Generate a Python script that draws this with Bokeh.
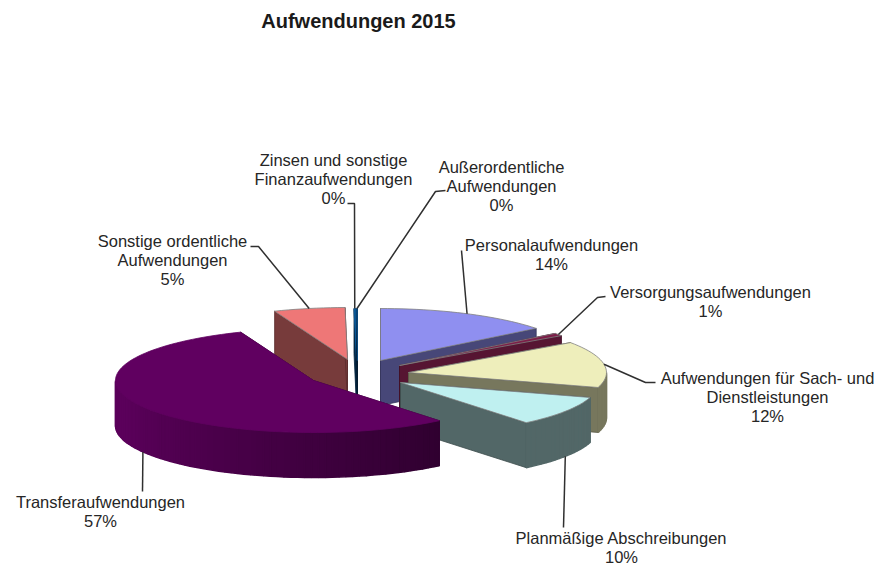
import math
from bokeh.plotting import figure
from bokeh.embed import file_html
from bokeh.resources import INLINE
from bokeh.core.properties import value

# ---- data ----
title_text = "Aufwendungen 2015"
categories = ["Personalaufwendungen", "Versorgungsaufwendungen",
              "Aufwendungen für Sach- und Dienstleistungen", "Planmäßige Abschreibungen",
              "Transferaufwendungen", "Sonstige ordentliche Aufwendungen",
              "Zinsen und sonstige Finanzaufwendungen", "Außerordentliche Aufwendungen"]
percent_labels = ["14%", "1%", "12%", "10%", "57%", "5%", "0%", "0%"]
# share of the drawn circle, as the slices appear in the perspective picture
drawn_shares = [14.4, 0.85, 14.4, 9.4, 54.95, 5.8, 0.12, 0.08]

# ---- styling and layout ----
top_colors = ["#8f8ff0", "#7c1e48", "#eeeebb", "#bff0f0", "#600060", "#ee7777", "#0a5a9c", "#0a4a80"]
side_factor = [0.5, 0.7, 0.5, 0.43, 0.5, 0.5, 0.5, 0.5]
pull = [(19, -13), (38, -8), (47, -1), (39, 9), (-48, 7), (-14, -14), (-5, -13), (-4, -13)]
label_lines = [["Personalaufwendungen"], ["Versorgungsaufwendungen"],
               ["Aufwendungen für Sach- und", "Dienstleistungen"], ["Planmäßige Abschreibungen"],
               ["Transferaufwendungen"], ["Sonstige ordentliche", "Aufwendungen"],
               ["Zinsen und sonstige", "Finanzaufwendungen"], ["Außerordentliche", "Aufwendungen"]]
label_pos = [(551, 244), (710, 291), (767, 377), (621, 537), (100, 501), (172, 240), (333, 159), (501, 166)]
leader_via = [[(461, 250)], [(605, 296), (597, 297)], [(655, 382), (645, 382)], [(563, 527)],
              [(142, 491)], [(250, 246), (258, 246)], [(347, 203), (354, 203)], [(445, 190), (435, 191)]]
paint_order = [5, 6, 7, 0, 1, 2, 3, 4]
CX, CY, RX, RY, DEPTH = 361, 373, 198, 52, 45
LINE_H = 19.2
FS = "16.5px"


def shade(hex_color, f):
    rgb = [int(hex_color[i:i + 2], 16) for i in (1, 3, 5)]
    return "#%02x%02x%02x" % tuple(min(255, int(c * f)) for c in rgb)


def rim(i, t):
    a = math.radians(t)
    return (CX + pull[i][0] + RX * math.sin(a), CY + pull[i][1] - RY * math.cos(a))


def wall_factor(i, t):
    low = side_factor[i]
    if t <= 141:
        return low
    return min(0.95, low + 0.45 * (t - 141) / 110)


p = figure(width=878, height=565, x_range=(0, 878), y_range=(565, 0),
           output_backend="svg", toolbar_location=None, min_border=0)
p.axis.visible = False
p.grid.visible = False
p.outline_line_color = None
p.background_fill_color = "white"
p.border_fill_color = "white"

edges = [0.0]
for s in drawn_shares:
    edges.append(edges[-1] + s * 3.6)

xs, ys, fills, lines, widths = [], [], [], [], []


def add(px, py, fill, line, width):
    xs.append(px)
    ys.append(py)
    fills.append(fill)
    lines.append(line)
    widths.append(width)


for i in paint_order:
    t0, t1 = edges[i], edges[i + 1]
    ax, ay = CX + pull[i][0], CY + pull[i][1]
    col = top_colors[i]
    face = shade(col, side_factor[i])
    # cut faces
    for t in (t0, t1):
        ex, ey = rim(i, t)
        add([ax, ex, ex, ax], [ay, ey, ey + DEPTH, ay + DEPTH], face, shade(col, side_factor[i] * 0.75), 0.8)
    # outer wall, only the part that faces the viewer
    a0, a1 = max(t0, 90.0), min(t1, 270.0)
    t = a0
    while t < a1:
        n = min(t + 2, a1)
        x0, y0 = rim(i, t)
        x1, y1 = rim(i, n)
        c = shade(col, wall_factor(i, (t + n) / 2))
        add([x0, x1, x1, x0], [y0, y1, y1 + DEPTH, y0 + DEPTH], c, c, 1.5)
        t = n
    # top surface
    steps = max(2, int((t1 - t0) / 2))
    arc = [rim(i, t0 + (t1 - t0) * k / steps) for k in range(steps + 1)]
    add([ax] + [q[0] for q in arc], [ay] + [q[1] for q in arc], col,
        col if i in (4, 6, 7) else "#808080", 0.8)

p.patches(xs, ys, fill_color=fills, line_color=lines, line_width=widths)

# leaders start at the middle of each slice's rim
for i, via in enumerate(leader_via):
    mid = (edges[i] + edges[i + 1]) / 2
    mx, my = rim(i, mid)
    if math.cos(math.radians(mid)) < -0.3:
        my += DEPTH
    path = via + [(mx, my)]
    p.line([q[0] for q in path], [q[1] for q in path], line_color="#303030", line_width=1.5)

# labels
tx, ty, tt = [], [], []
for i, lines_i in enumerate(label_lines):
    x, y = label_pos[i]
    for k, s in enumerate(lines_i + [percent_labels[i]]):
        tx.append(x)
        ty.append(y + k * LINE_H)
        tt.append(s)
p.text(tx, ty, text=tt, text_font=value("Liberation Sans"), text_font_size=value(FS),
       text_color="#262626", text_align="center", text_baseline="middle")
p.text([358], [20], text=[title_text], text_font=value("Liberation Sans"),
       text_font_style="bold", text_font_size=value("20px"), text_color="#1a1a1a",
       text_align="center", text_baseline="middle")

open("out.html", "w").write(file_html(p, INLINE))
